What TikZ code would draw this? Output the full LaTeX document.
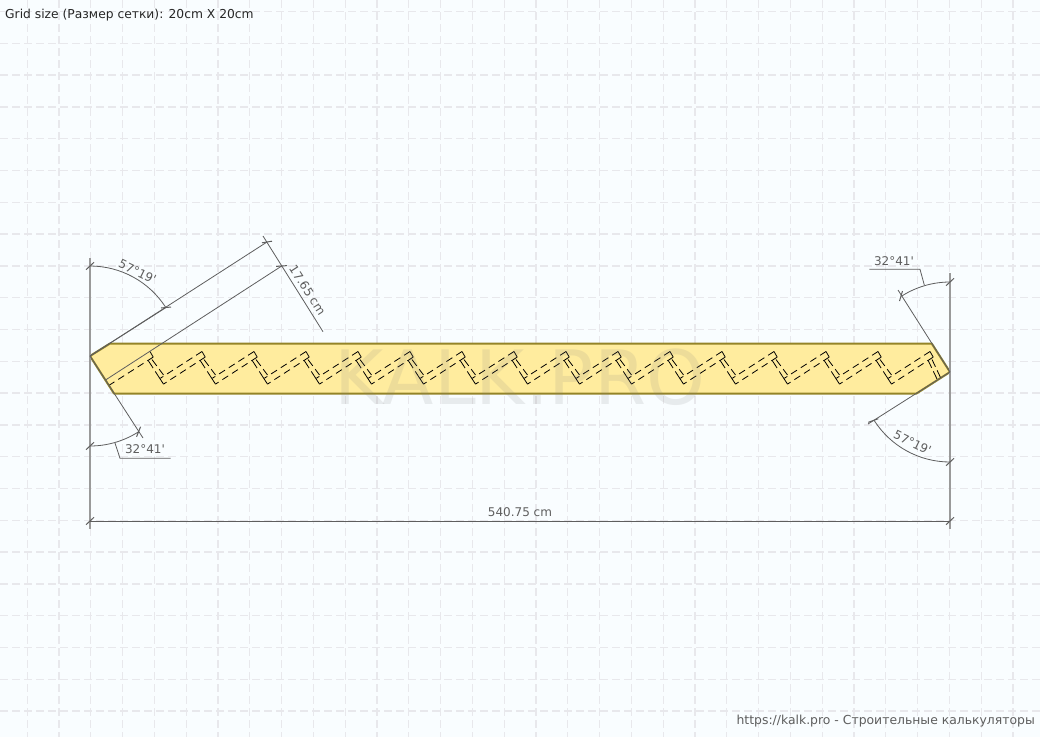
\documentclass[tikz,border=0pt]{standalone}
\usepackage{fontspec}
\newfontfamily\dimfont{DejaVu Sans}
\usetikzlibrary{calc}
\definecolor{sheet}{HTML}{F9FDFF}
\definecolor{gridcol}{HTML}{E8E8EC}
\definecolor{dimcol}{HTML}{5E5E5E}
\definecolor{boardfill}{HTML}{FFEC9E}
\definecolor{boardline}{HTML}{948428}
\definecolor{axiscol}{HTML}{9A9A9A}
\tikzset{
  gridline/.style={gridcol,line width=1.3pt,dash pattern=on 8pt off 4pt},
  dimline/.style={dimcol,line width=0.8pt},
  axisline/.style={axiscol,line width=1.5pt},
  cutline/.style={black,line width=0.8pt,dash pattern=on 7pt off 4.5pt},
  stemlong/.style={black,line width=0.8pt,dash pattern=on 9pt off 4pt on 99pt off 1pt},
  stemshort/.style={black,line width=0.8pt,dash pattern=on 8pt off 4pt on 99pt off 1pt},
  dimtext/.style={font=\dimfont\fontsize{12}{14}\selectfont,text=dimcol,inner sep=0pt},
}
% tick across a dimension line
\newcommand{\dimtick}[3]{\draw[dimcol,line width=1pt] ($(#1)-(#2,#3)$) -- ($(#1)+(#2,#3)$);}
\begin{document}
\begin{tikzpicture}[x=1pt,y=-1pt]
\useasboundingbox (0,0) rectangle (1040,737);
\fill[sheet] (0,0) rectangle (1040,737);

\foreach \n in {0,...,31} {
  \draw[gridline] ({27.2+31.8*\n},0) -- ({27.2+31.8*\n},737);
}
\foreach \n in {0,...,22} {
  \draw[gridline] (0,{11.5+31.8*\n}) -- (1040,{11.5+31.8*\n});
}

\coordinate (tipl) at (90,356);
\coordinate (tipr) at (950,372);
\coordinate (topl) at (110,343.5);
\coordinate (topr) at (931.7,343.5);
\coordinate (botr) at (916.5,393.5);
\coordinate (botl) at (114,393.5);
\draw[boardline,fill=boardfill,line width=2pt,line join=round] (tipl) -- (topl) -- (topr) -- (tipr) -- (botr) -- (botl) -- cycle;

% first piece
\coordinate (b0) at (150,351.5);
\coordinate (c0) at (153.2,357.1);
\coordinate (a0) at (105.5,380);
\coordinate (d0) at (109.5,385);
\draw[black,line width=0.8pt] (b0) -- (c0);
\draw[cutline] (c0) -- (d0);

% teeth
\foreach \x in {1,...,15} {
  \coordinate (b\x) at ({150+52*\x},351.5);
  \coordinate (c\x) at ($(b\x)+(3.2,5.6)$);
  \coordinate (a\x) at ($(b\x)+(-41.7,26.8)$);
  \coordinate (d\x) at ($(c\x)+(-41.7,27)$);
  \draw[black,line width=0.8pt] (b\x) -- (c\x);
  \draw[cutline] (b\x) -- (a\x);
  \draw[cutline] (c\x) -- (d\x);
}
\foreach \x [evaluate=\x as \y using int(\x+1)] in {0,...,14} {
  \coordinate (s\x) at ($(b\x)+(-1.8,9)$);
  \coordinate (t\x) at ($(b\x)+(2,8)$);
  \coordinate (e\x) at ($(b\x)+(13.5,23.5)$);
  \draw[stemlong] (s\x) -- (d\y);
  \draw[stemshort] (t\x) -- (e\x);
}
\coordinate (s15) at ($(b15)+(-1.8,9)$);
\coordinate (t15) at ($(b15)+(2,8)$);
\coordinate (e15) at ($(b15)+(7,27.5)$);
\coordinate (f15) at ($(b15)+(10.5,26)$);
\draw[stemshort] (s15) -- (e15);
\draw[stemshort] (t15) -- (f15);

% outer axes
\coordinate (axl0) at (90,258);
\coordinate (axl1) at (90,529);
\coordinate (axr0) at (950,273);
\coordinate (axr1) at (950,529);
\draw[axisline] (axl0) -- (axl1);
\draw[axisline] (axr0) -- (axr1);

% left end
\coordinate (wa) at (267,242);
\coordinate (wb) at (281.7,266);
\coordinate (wc) at (263,236);
\coordinate (wd) at (323,331.7);
\coordinate (ua) at (166,307.5);
\coordinate (la) at (138.6,431.7);
\coordinate (lb) at (143,438);
\draw[dimline] (tipl) -- (wa);
\draw[dimline] (tipl) -- (ua);
\draw[dimline] (a0) -- (wb);
\draw[dimline] (wc) -- (wd);
\draw[dimline] (tipl) -- (lb);
\coordinate (tl) at (90,266);
\coordinate (ll) at (90,446);
\draw[dimline] (tl) arc[start angle=-90,end angle=-32.68,radius=90];
\draw[dimline] (ll) arc[start angle=90,end angle=57.32,radius=90];
\coordinate (lead0) at (115,443);
\coordinate (lead1) at (120,458.3);
\coordinate (lead2) at (170.7,458.3);
\draw[dimline] (lead0) -- (lead1) -- (lead2);
\dimtick{tl}{4}{-3.7}
\dimtick{ll}{4}{-3.7}
\dimtick{wa}{5}{-0.8}
\dimtick{wb}{5.5}{-0.4}
\dimtick{ua}{5}{-0.5}
\dimtick{la}{2}{-5}

% right end
\coordinate (ra) at (898,290);
\coordinate (rb) at (901,296);
\coordinate (rc) at (868,424);
\coordinate (rd) at (873.3,420.5);
\coordinate (tr) at (950,282);
\coordinate (lr) at (950,462);
\draw[dimline] (tipr) -- (ra);
\draw[dimline] (tipr) -- (rc);
\draw[dimline] (tr) arc[start angle=-90,end angle=-122.68,radius=90];
\draw[dimline] (lr) arc[start angle=90,end angle=147.32,radius=90];
\coordinate (lead3) at (924.3,285);
\coordinate (lead4) at (920,269.3);
\coordinate (lead5) at (869.3,269.3);
\draw[dimline] (lead3) -- (lead4) -- (lead5);
\dimtick{tr}{4}{-3.7}
\dimtick{lr}{4}{-3.7}
\dimtick{rb}{1.5}{-5}
\dimtick{rd}{5}{-1.8}

% overall length
\coordinate (ln0) at (90,521);
\coordinate (ln1) at (950,521);
\draw[dimline] (ln0) -- (ln1);
\dimtick{ln0}{4}{-3.7}
\dimtick{ln1}{4}{-3.7}

\node (lenlabel) [dimtext] at (520,512) {540.75 cm};
\node (widthlabel) [dimtext,rotate=-57.3] at (307.5,290) {17.65 cm};
\node (anglea) [dimtext,rotate=-26] at (137.5,271.5) {57°19'};
\node (angleb) [dimtext] at (145,449.5) {32°41'};
\node (anglec) [dimtext] at (894,261) {32°41'};
\node (angled) [dimtext,rotate=-26] at (912.5,442.5) {57°19'};

\node (mark) [font=\dimfont\fontsize{75}{80}\selectfont,text=gray,text opacity=0.14,inner sep=0pt] at (520,377.5) {KALK.PRO};
\node (gridlabel) [anchor=west,font=\dimfont\fontsize{12.3}{14}\selectfont,text=black!85,inner sep=0pt] at (5,15) {Grid size (Размер сетки): 20cm X 20cm};
\node (sitelabel) [anchor=east,dimtext,font=\dimfont\fontsize{12.4}{14}\selectfont] at (1035,721) {https://kalk.pro - Строительные калькуляторы};
\end{tikzpicture}
\end{document}
